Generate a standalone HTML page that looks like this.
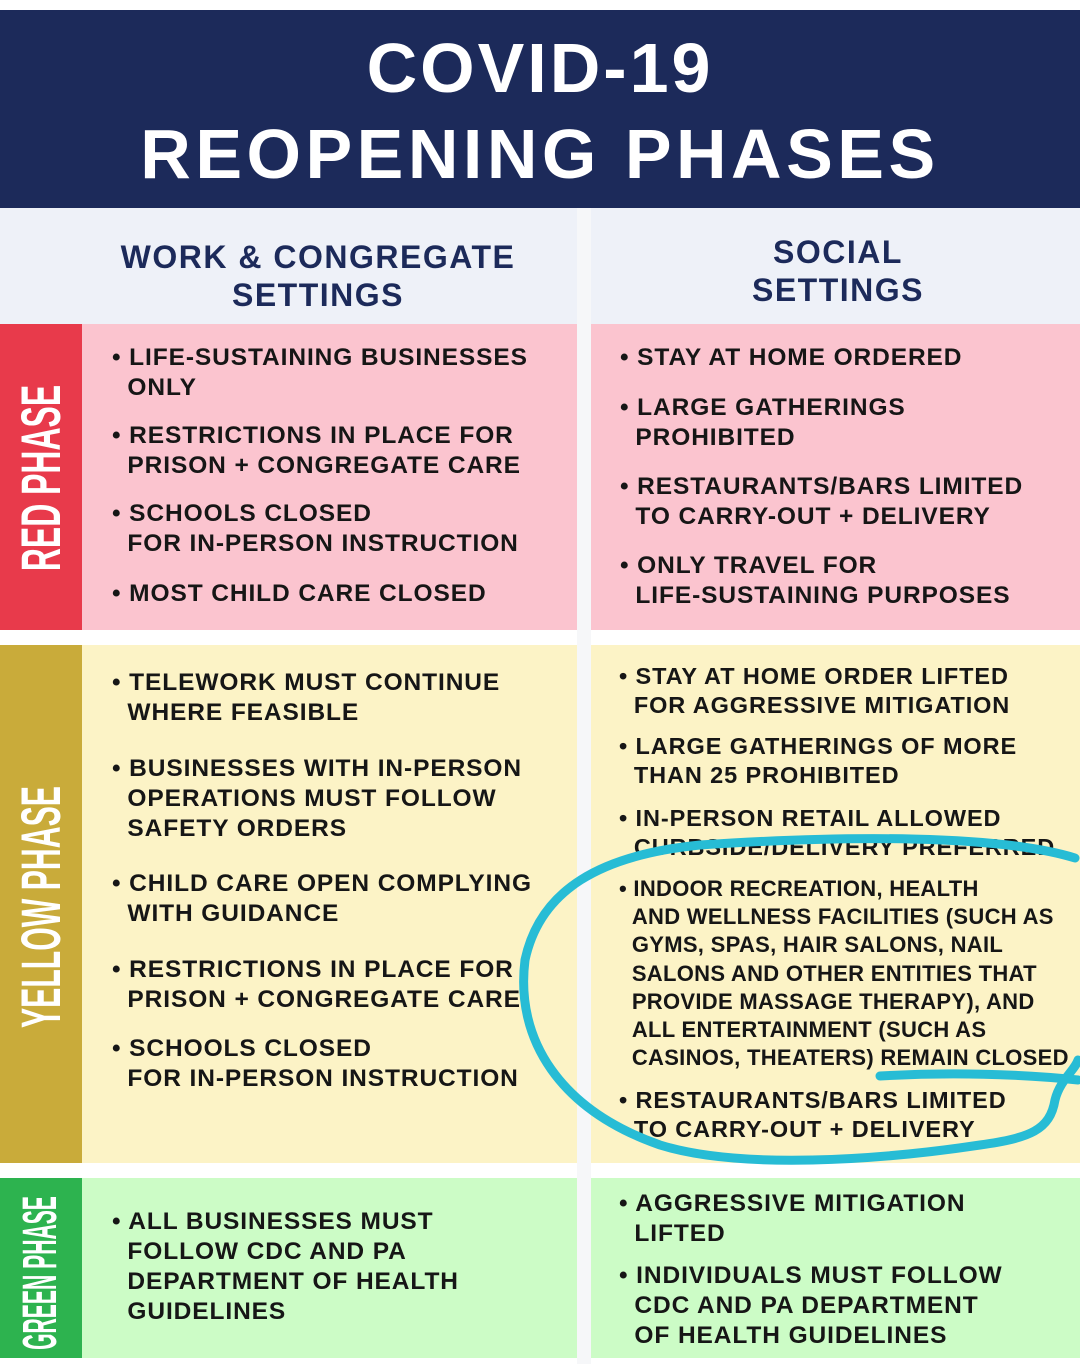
<!DOCTYPE html>
<html><head><meta charset="utf-8"><style>
body{margin:0;width:1080px;height:1364px;position:relative;background:#fff;font-family:"Liberation Sans",sans-serif;overflow:hidden}
div{position:absolute}
.t{font-weight:bold;font-size:24.5px;line-height:30px;color:#161616;white-space:nowrap;letter-spacing:0.9px}
.r{font-size:23.5px;line-height:28.5px;letter-spacing:0.9px}
.h{color:#1c2a5a;font-weight:900;font-size:32px;text-align:center;letter-spacing:1.5px;line-height:38px}
.v{color:#fff;font-weight:bold;white-space:nowrap;text-align:center;line-height:50px;height:50px}
</style></head><body>
<div style="left:0;top:10px;width:1080px;height:198px;background:#1c2a5a"></div>
<div style="left:0;top:30px;width:1080px;text-align:center;color:#fff;font-weight:bold;font-size:70px;line-height:76px;letter-spacing:3px">COVID-19</div>
<div style="left:0;top:116px;width:1080px;text-align:center;color:#fff;font-weight:bold;font-size:70px;line-height:76px;letter-spacing:4.5px">REOPENING PHASES</div>
<div style="left:0;top:208px;width:1080px;height:116px;background:#eef1f8"></div>
<div style="left:577px;top:208px;width:14px;height:1156px;background:#f6f7f9"></div>
<div class="h" style="left:82px;top:238px;width:472px">WORK &amp; CONGREGATE<br>SETTINGS</div>
<div class="h" style="left:591px;top:233px;width:494px">SOCIAL<br>SETTINGS</div>

<div style="left:0;top:324px;width:82px;height:306px;background:#e83a4b"></div>
<div style="left:82px;top:324px;width:495px;height:306px;background:#fbc4cf"></div>
<div style="left:591px;top:324px;width:489px;height:306px;background:#fbc4cf"></div>
<div style="left:0;top:645px;width:82px;height:518px;background:#c9ab3a"></div>
<div style="left:82px;top:645px;width:495px;height:518px;background:#fcf3c6"></div>
<div style="left:591px;top:645px;width:489px;height:518px;background:#fcf3c6"></div>
<div style="left:0;top:1178px;width:82px;height:180px;background:#2db34f"></div>
<div style="left:82px;top:1178px;width:495px;height:180px;background:#ccfcc6"></div>
<div style="left:591px;top:1178px;width:489px;height:180px;background:#ccfcc6"></div>

<div class="v" style="left:-159px;top:453px;width:400px;font-size:56px;transform:rotate(-90deg) scaleX(0.57)">RED PHASE</div>
<div class="v" style="left:-159px;top:895px;width:400px;font-size:56px;transform:rotate(-90deg) scaleX(0.54)">YELLOW PHASE</div>
<div class="v" style="left:-159px;top:1248px;width:400px;font-size:48px;transform:rotate(-90deg) scaleX(0.44)">GREEN PHASE</div>

<div class="t" style="left:112px;top:343px">• LIFE-SUSTAINING BUSINESSES<br>&nbsp;&nbsp;ONLY</div>
<div class="t" style="left:112px;top:421px">• RESTRICTIONS IN PLACE FOR<br>&nbsp;&nbsp;PRISON + CONGREGATE CARE</div>
<div class="t" style="left:112px;top:499px">• SCHOOLS CLOSED<br>&nbsp;&nbsp;FOR IN-PERSON INSTRUCTION</div>
<div class="t" style="left:112px;top:579px">• MOST CHILD CARE CLOSED</div>

<div class="t" style="left:620px;top:343px">• STAY AT HOME ORDERED</div>
<div class="t" style="left:620px;top:393px">• LARGE GATHERINGS<br>&nbsp;&nbsp;PROHIBITED</div>
<div class="t" style="left:620px;top:472px">• RESTAURANTS/BARS LIMITED<br>&nbsp;&nbsp;TO CARRY-OUT + DELIVERY</div>
<div class="t" style="left:620px;top:551px">• ONLY TRAVEL FOR<br>&nbsp;&nbsp;LIFE-SUSTAINING PURPOSES</div>

<div class="t" style="left:112px;top:668px">• TELEWORK MUST CONTINUE<br>&nbsp;&nbsp;WHERE FEASIBLE</div>
<div class="t" style="left:112px;top:754px">• BUSINESSES WITH IN-PERSON<br>&nbsp;&nbsp;OPERATIONS MUST FOLLOW<br>&nbsp;&nbsp;SAFETY ORDERS</div>
<div class="t" style="left:112px;top:869px">• CHILD CARE OPEN COMPLYING<br>&nbsp;&nbsp;WITH GUIDANCE</div>
<div class="t" style="left:112px;top:955px">• RESTRICTIONS IN PLACE FOR<br>&nbsp;&nbsp;PRISON + CONGREGATE CARE</div>
<div class="t" style="left:112px;top:1034px">• SCHOOLS CLOSED<br>&nbsp;&nbsp;FOR IN-PERSON INSTRUCTION</div>

<div class="t r" style="left:619px;top:662px">• STAY AT HOME ORDER LIFTED<br>&nbsp;&nbsp;FOR AGGRESSIVE MITIGATION</div>
<div class="t r" style="left:619px;top:732px">• LARGE GATHERINGS OF MORE<br>&nbsp;&nbsp;THAN 25 PROHIBITED</div>
<div class="t r" style="left:619px;top:804px">• IN-PERSON RETAIL ALLOWED<br>&nbsp;&nbsp;CURBSIDE/DELIVERY PREFERRED</div>
<div class="t" style="left:619px;top:875px;font-size:22px;line-height:28.2px;letter-spacing:0.3px">• INDOOR RECREATION, HEALTH<br>&nbsp;&nbsp;AND WELLNESS FACILITIES (SUCH AS<br>&nbsp;&nbsp;GYMS, SPAS, HAIR SALONS, NAIL<br>&nbsp;&nbsp;SALONS AND OTHER ENTITIES THAT<br>&nbsp;&nbsp;PROVIDE MASSAGE THERAPY), AND<br>&nbsp;&nbsp;ALL ENTERTAINMENT (SUCH AS<br>&nbsp;&nbsp;CASINOS, THEATERS) REMAIN CLOSED</div>
<div class="t r" style="left:619px;top:1086px;line-height:29px">• RESTAURANTS/BARS LIMITED<br>&nbsp;&nbsp;TO CARRY-OUT + DELIVERY</div>

<div class="t" style="left:112px;top:1207px">• ALL BUSINESSES MUST<br>&nbsp;&nbsp;FOLLOW CDC AND PA<br>&nbsp;&nbsp;DEPARTMENT OF HEALTH<br>&nbsp;&nbsp;GUIDELINES</div>
<div class="t" style="left:619px;top:1189px">• AGGRESSIVE MITIGATION<br>&nbsp;&nbsp;LIFTED</div>
<div class="t" style="left:619px;top:1261px">• INDIVIDUALS MUST FOLLOW<br>&nbsp;&nbsp;CDC AND PA DEPARTMENT<br>&nbsp;&nbsp;OF HEALTH GUIDELINES</div>

<svg style="position:absolute;left:0;top:0" width="1080" height="1364">
<path d="M1075,858 C1000,835 850,835 700,845 C600,855 540,890 525,960 C515,1040 560,1110 660,1145 C740,1170 880,1160 980,1145 C1030,1138 1050,1130 1055,1100 C1060,1080 1075,1070 1078,1060" fill="none" stroke="#27bcd5" stroke-width="9" stroke-linecap="round"/>
<path d="M880,1076 C950,1072 1020,1074 1078,1080" fill="none" stroke="#27bcd5" stroke-width="9" stroke-linecap="round"/>
</svg>
</body></html>
